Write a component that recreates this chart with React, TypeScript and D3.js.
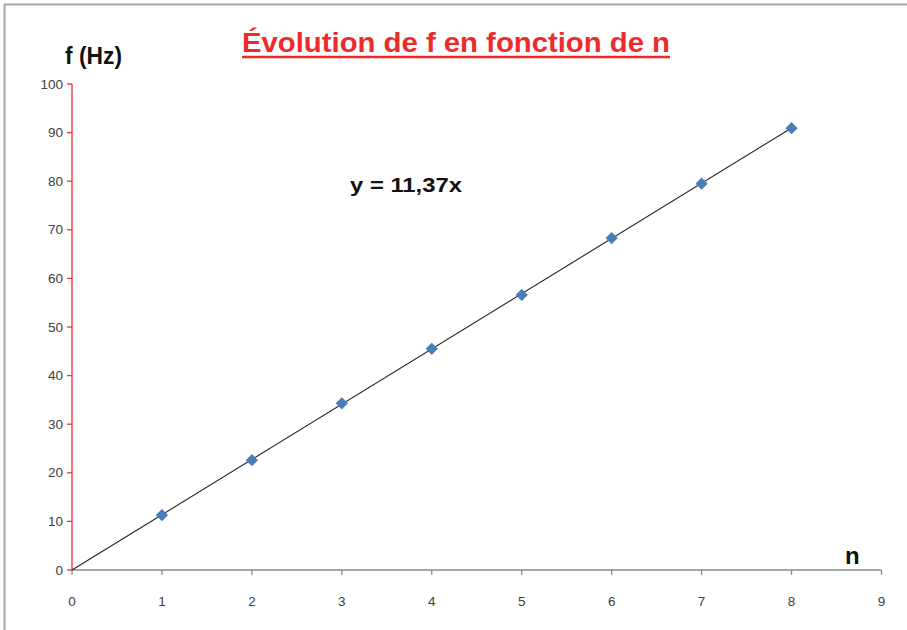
import React from "react";
import * as d3 from "d3";

const nValues = [1, 2, 3, 4, 5, 6, 7, 8];
const fValues = [11.3, 22.6, 34.3, 45.5, 56.6, 68.3, 79.5, 90.9];
const slope = 11.37;
const xTicks = [0, 1, 2, 3, 4, 5, 6, 7, 8, 9];
const yTicks = [0, 10, 20, 30, 40, 50, 60, 70, 80, 90, 100];
const titleText = "Évolution de f en fonction de n";
const equationText = "y = 11,37x";
const yLabel = "f (Hz)";
const xLabel = "n";

export default function App() {
  const W = 907, H = 630;
  const x = d3.scaleLinear().domain([0, 9]).range([72, 881.5]);
  const y = d3.scaleLinear().domain([0, 100]).range([570, 84]);
  const line = d3.line<number>().x(d => x(d)).y(d => y(slope * d));
  const font = "'Liberation Sans', Arial, sans-serif";
  const diamond = d3.symbol().type(d3.symbolDiamond2).size(95)();
  return (
    <svg width={W} height={H} style={{ position: "absolute", left: 0, top: 0, background: "#fff" }} fontFamily={font}>
      <rect x={0} y={0} width={W} height={H} fill="#fff" />
      <line x1={4} y1={4.5} x2={W} y2={4.5} stroke="#a6a6a6" strokeWidth={2} />
      <line x1={4.5} y1={4} x2={4.5} y2={H} stroke="#a6a6a6" strokeWidth={2} />
      {/* title */}
      <text x={456} y={52} textAnchor="middle" fill="#ee2b2b" fontWeight="bold" fontSize={27}
        textLength={428} lengthAdjust="spacingAndGlyphs">{titleText}</text>
      <line x1={242} x2={670} y1={57} y2={57} stroke="#ee2b2b" strokeWidth={2.5} />
      {/* y label */}
      <text x={65} y={64} fill="#111" fontWeight="bold" fontSize={24} textLength={57} lengthAdjust="spacingAndGlyphs">{yLabel}</text>
      {/* x axis */}
      <line x1={x(0)} x2={x(9)} y1={y(0)} y2={y(0)} stroke="#8a8a8a" strokeWidth={1.3} />
      {xTicks.map(t => (
        <g key={"x" + t}>
          <line x1={x(t)} x2={x(t)} y1={y(0)} y2={y(0) + 5} stroke="#8a8a8a" strokeWidth={1.3} />
          <text x={x(t)} y={606} textAnchor="middle" fontSize={13.5} fill="#404040">{t}</text>
        </g>
      ))}
      {/* y axis */}
      <line x1={x(0)} x2={x(0)} y1={y(0)} y2={y(100)} stroke="#ff2a2a" strokeWidth={1.3} />
      {yTicks.map(t => (
        <g key={"y" + t}>
          <line x1={x(0) - 5} x2={x(0)} y1={y(t)} y2={y(t)} stroke="#ff2a2a" strokeWidth={1.3} />
          <text x={63} y={y(t) + 4.5} textAnchor="end" fontSize={13.5} fill="#404040">{t}</text>
        </g>
      ))}
      {/* trendline */}
      <path d={line([0, 8]) || ""} fill="none" stroke="#222" strokeWidth={1.1} />
      {/* points */}
      {nValues.map((n, i) => (
        <path key={"p" + n} d={diamond || ""} transform={`translate(${x(n)},${y(fValues[i])})`} fill="#4a7ebb" />
      ))}
      {/* equation */}
      <text x={350} y={192} fontWeight="bold" fontSize={20} fill="#111" textLength={112} lengthAdjust="spacingAndGlyphs">{equationText}</text>
      {/* n label */}
      <text x={845} y={564} fontWeight="bold" fontSize={24} fill="#111">{xLabel}</text>
    </svg>
  );
}
